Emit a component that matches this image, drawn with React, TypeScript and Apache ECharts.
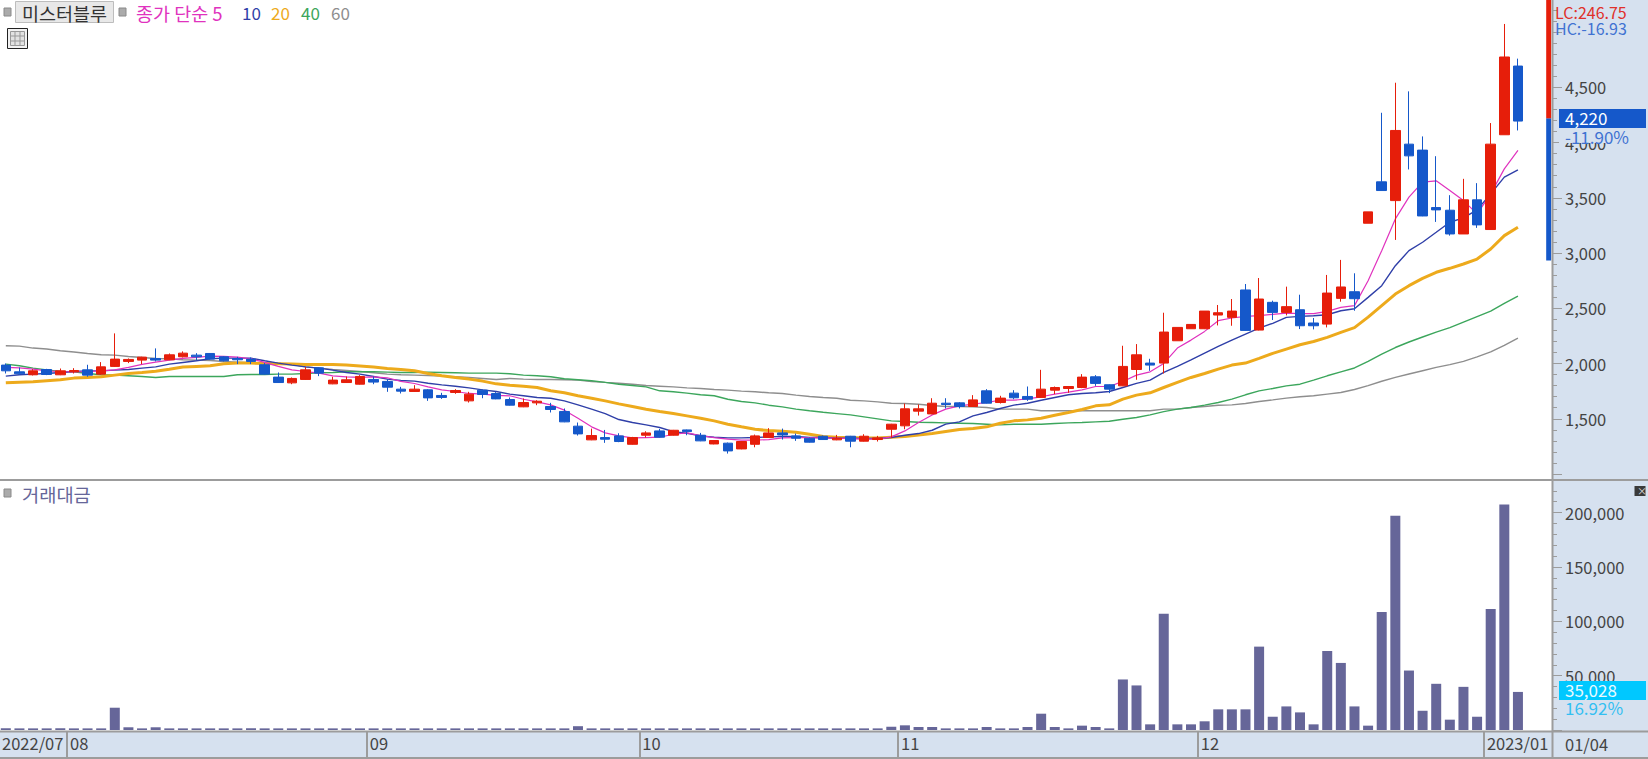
import React, { useEffect, useRef } from "react";
import * as echarts from "echarts";

const FONT = '"Noto Sans CJK KR", "Noto Sans", sans-serif';
const W = 1648;
const H = 759;

// [open, close, low, high]
const candles: number[][] = [
  [1986,1934,1910,2001],[1925,1907,1898,1964],[1898,1934,1892,1949],[1946,1901,1895,1952],[1898,1934,1895,1955],
  [1925,1937,1910,1958],[1943,1895,1880,1989],[1904,1970,1898,2013],[1974,2040,1970,2273],[2019,2037,2004,2046],
  [2031,2058,1995,2061],[2046,2031,2019,2137],[2034,2079,2031,2091],[2061,2094,2055,2110],[2076,2061,2031,2094],
  [2091,2040,2037,2094],[2061,2025,2019,2067],[2046,2034,1995,2061],[2040,2019,1995,2055],[1989,1904,1901,2004],
  [1877,1828,1825,1919],[1825,1865,1813,1874],[1856,1943,1853,1968],[1961,1913,1886,1964],[1816,1850,1813,1880],
  [1828,1853,1825,1883],[1813,1883,1810,1895],[1856,1832,1813,1883],[1838,1786,1744,1859],[1768,1750,1729,1789],
  [1747,1768,1744,1804],[1762,1689,1662,1768],[1711,1693,1680,1735],[1738,1756,1726,1768],[1662,1723,1647,1744],
  [1759,1720,1686,1765],[1729,1680,1677,1741],[1674,1623,1620,1693],[1608,1647,1605,1684],[1644,1659,1623,1668],
  [1611,1584,1557,1644],[1566,1472,1469,1593],[1433,1363,1348,1466],[1309,1348,1306,1411],[1330,1315,1282,1399],
  [1345,1294,1288,1369],[1269,1330,1266,1336],[1351,1372,1330,1387],[1390,1333,1330,1408],[1351,1396,1348,1399],
  [1399,1384,1351,1402],[1351,1300,1297,1372],[1272,1303,1269,1303],[1279,1209,1185,1285],[1227,1294,1224,1297],
  [1269,1345,1242,1357],[1330,1372,1327,1415],[1372,1354,1312,1411],[1345,1324,1300,1366],[1324,1288,1285,1330],
  [1342,1312,1309,1348],[1309,1324,1306,1354],[1342,1297,1242,1345],[1297,1342,1294,1360],[1312,1327,1294,1345],
  [1405,1451,1327,1454],[1436,1590,1405,1638],[1569,1590,1529,1629],[1544,1641,1541,1686],[1641,1629,1593,1686],
  [1644,1611,1593,1650],[1611,1671,1608,1714],[1753,1641,1638,1768],[1647,1687,1638,1708],[1732,1690,1677,1759],
  [1702,1677,1662,1792],[1693,1768,1690,1943],[1759,1783,1723,1792],[1774,1792,1735,1795],[1783,1877,1777,1904],
  [1880,1820,1798,1895],[1808,1768,1732,1811],[1798,1974,1795,2161],[1946,2079,1853,2176],[2004,1986,1934,2043],
  [2004,2285,1910,2460],[2206,2327,2206,2327],[2315,2354,2315,2354],[2315,2475,2312,2475],[2439,2460,2345,2530],
  [2418,2475,2342,2584],[2666,2300,2297,2720],[2303,2584,2300,2774],[2554,2463,2394,2569],[2463,2515,2436,2696],
  [2487,2342,2312,2623],[2367,2342,2309,2412],[2357,2638,2327,2802],[2590,2693,2560,2938],[2650,2587,2478,2817],
  [3270,3373,3270,3373],[3645,3566,3566,4270],[3475,4110,3119,4542],[3986,3880,3757,4464],[3932,3336,3334,4056],
  [3412,3391,3282,3877],[3388,3173,3158,3524],[3173,3482,3173,3672],[3482,3255,3228,3633],[3213,3986,3213,4177],
  [4071,4775,4071,5074],[4693,4195,4110,4760],
];

const ma5 = [
  1965,1961,1949,1934,1928,1925,1928,1934,1943,1965,1992,2013,2031,2046,2055,2067,2064,2058,2043,2010,
  1974,1943,1928,1913,1889,1880,1874,1880,1871,1838,1819,1789,1762,1747,1729,1723,1711,
  1708,1677,1653,1626,1578,1505,1427,1372,1345,1327,1330,1333,1360,1372,1348,1330,1315,1306,1306,1312,
  1327,1330,1330,1327,1324,1321,1318,1315,1336,1390,1466,1535,1587,1617,1632,1647,
  1668,1668,1680,1699,1723,1741,1762,1792,1792,1838,1895,1925,2001,2140,2212,2291,2388,2412,2427,2433,
  2445,2457,2451,2451,2472,2509,
  2524,2750,3022,3309,3506,3642,3654,3566,3475,3355,3536,3762,3929,
];
const ma10 = [
  1886,1898,1904,1910,1919,1928,1934,1934,1940,1946,1958,1970,1995,2010,2025,2043,2049,2049,2049,2025,
  2004,1986,1970,1958,1940,1919,1904,1883,1859,1847,1841,1822,1807,1795,1780,1762,1747,
  1723,1708,1693,1686,1662,1626,1587,1547,1493,1466,1445,1421,1384,1369,1345,1333,1327,1327,1330,1336,
  1339,1339,1330,1330,1324,1324,1321,1321,1330,1351,1366,1396,1451,1472,1526,1557,
  1593,1623,1641,1668,1693,1717,1729,1735,1747,1783,1820,1850,1919,1974,2034,2095,2155,2212,2267,2321,
  2364,2418,2427,2433,2442,2478,
  2496,2599,2705,2886,3022,3098,3188,3279,3318,3391,3536,3687,3754,
];
const ma20 = [
  1825,1831,1835,1844,1853,1868,1874,1880,1895,1910,1919,1931,1949,1968,1974,1980,1998,2004,2004,2001,
  1998,1995,1992,1992,1992,1986,1977,1968,1955,1946,1934,1910,1889,1874,1859,1841,1816,
  1804,1795,1783,1753,1735,1708,1686,1662,1635,1611,1587,1566,1547,1526,1505,1481,1451,1427,1405,1393,
  1387,1378,1360,1339,1333,1330,1327,1327,1333,1339,1354,1366,1384,1402,1411,1427,
  1460,1481,1490,1505,1532,1557,1584,1617,1626,1678,1714,1735,1783,1829,1874,1910,1949,1986,2004,2046,
  2092,2131,2170,2200,2237,2282,
  2325,2420,2525,2629,2705,2771,2826,2862,2901,2946,3037,3158,3234,
];
const ma40 = [
  1995,1980,1958,1943,1928,1925,1910,1898,1895,1889,1883,1874,1883,1883,1883,1883,1883,1898,1901,1901,
  1904,1904,1910,1916,1919,1925,1925,1925,1922,1919,1919,1922,1919,1916,1913,1913,1913,
  1907,1895,1889,1880,1862,1853,1844,1829,1813,1801,1789,1753,1744,1732,1717,1708,1677,1656,1644,1623,
  1608,1587,1572,1559,1547,1535,1517,1499,1481,1475,1469,1466,1463,1460,1457,1451,
  1445,1451,1451,1451,1457,1463,1466,1472,1478,1496,1511,1535,1565,1587,1602,1623,1647,1678,1717,1753,
  1774,1798,1813,1850,1889,1925,
  1960,2020,2085,2145,2195,2240,2285,2325,2375,2425,2475,2545,2610,
];
const ma60 = [
  2161,2158,2140,2131,2116,2104,2091,2079,2076,2064,2055,2046,2043,2034,2031,2028,2019,2013,2007,2001,
  2001,1992,1970,1958,1946,1937,1928,1916,1904,1898,1895,1892,1886,1880,1874,1865,1856,
  1865,1859,1856,1856,1853,1850,1838,1829,1822,1813,1801,1795,1789,1780,1774,1765,1759,1750,1744,1735,
  1729,1714,1702,1692,1686,1668,1662,1653,1641,1638,1632,1620,1611,1611,1608,1602,
  1587,1587,1587,1572,1572,1572,1572,1572,1572,1572,1572,1572,1587,1587,1602,1611,1623,1626,1638,1656,
  1671,1687,1699,1708,1723,1738,
  1765,1800,1840,1875,1905,1935,1965,1990,2020,2060,2105,2165,2230,
];

const turnover = [
  1500,1500,1500,1500,1500,1500,1500,1500,20500,2500,1500,2500,1500,1500,1500,1500,1500,1500,1500,1500,
  1500,1500,1500,1500,1500,1500,1500,1500,1500,1500,1500,1500,1500,1500,1500,1500,1500,1500,1500,1500,
  1500,1500,3500,1500,1500,1500,1500,1500,1500,1500,1500,1500,1500,1500,1500,1500,1500,1500,1500,1500,
  1500,1500,1500,1500,1500,3000,4300,2750,2750,1500,1500,1500,2750,1500,1500,2750,15000,2750,1500,4000,
  2750,1500,46500,41000,5200,107000,5200,5200,8000,19000,19000,19000,76700,12200,21700,16200,5200,72700,61700,21700,
  4000,108500,197000,54700,17700,42500,9500,39700,12200,111300,207500,35028,
];

const monthIndices = [0, 5, 27, 47, 66, 88, 109];
const monthLabels = ["2022/07", "08", "09", "10", "11", "12", "2023/01"];
const lastDateLabel = "01/04";
const maColors = ["#E032BE", "#2F3FA8", "#EDAA1C", "#3CA65C", "#8E8E8E"];
const maWidths = [1.2, 1.4, 3, 1.4, 1.4];
const maLabels = ["종가 단순 5", "10", "20", "40", "60"];
const maLabelX = [136, 242, 271, 301, 331];
const lastPrice = 4220;
const scaleBarBottom = 2932;
const scaleBarTop = 5300;

const RED = "#E61E0A";
const BLUE = "#1558CA";
const PURPLE = "#666699";
const PANEL = "#D6E1EF";
const LINE = "#9C9C9C";
const TEXT = "#444444";

const BANDS = 114; // 112 sessions and two empty slots on the right
const categories = Array.from({ length: BANDS }, (_, i) => String(i));

function labelText(x: number, y: number, text: string, fill: string, size = 17, extra: any = {}) {
  return {
    type: "text",
    x,
    y,
    z: 50,
    style: { text, fill, font: `${size}px ${FONT}`, verticalAlign: "middle", align: "left", ...extra },
  };
}
function box(x: number, y: number, width: number, height: number, fill: string, z = 40, stroke?: string) {
  return {
    type: "rect",
    z,
    shape: { x, y, width, height },
    style: stroke ? { fill, stroke, lineWidth: 1 } : { fill },
  };
}
function hline(y: number, x1 = 0, x2 = W) {
  return { type: "line", z: 45, shape: { x1, y1: y, x2, y2: y }, style: { stroke: LINE, lineWidth: 2 } };
}
function bullet(x: number, y: number) {
  return box(x, y, 7, 8, "#ABABAB", 45, "#8A8A8A");
}

export default function App() {
  const ref = useRef<HTMLDivElement>(null);

  useEffect(() => {
    document.body.style.margin = "0";
    document.body.style.overflow = "hidden";
    const chart = echarts.init(ref.current!, undefined, { renderer: "svg" });

    const tableIcon: any[] = [
      box(7.5, 28.5, 20, 20, "#F2F2F2", 45, "#222222"),
      box(10.5, 31.5, 14, 14, "#E2E2E2", 45, "#999999"),
      { type: "line", z: 46, shape: { x1: 15, y1: 32, x2: 15, y2: 45 }, style: { stroke: "#999", lineWidth: 1 } },
      { type: "line", z: 46, shape: { x1: 20, y1: 32, x2: 20, y2: 45 }, style: { stroke: "#999", lineWidth: 1 } },
      { type: "line", z: 46, shape: { x1: 11, y1: 36, x2: 24, y2: 36 }, style: { stroke: "#999", lineWidth: 1 } },
      { type: "line", z: 46, shape: { x1: 11, y1: 41, x2: 24, y2: 41 }, style: { stroke: "#999", lineWidth: 1 } },
    ];

    const valueLabel = { show: true, margin: 13, color: TEXT, fontFamily: FONT, fontSize: 16.5, padding: [0, 0, 4, 0] };

    const option: any = {
      animation: false,
      backgroundColor: "#FFFFFF",
      grid: [
        { left: -1, width: 1553, top: -1, height: 475, containLabel: false, outerBoundsMode: "none" },
        { left: -1, width: 1553, top: 480, height: 250, containLabel: false, outerBoundsMode: "none" },
        { left: -7.81, width: 1553, top: 731, height: 1, containLabel: false, outerBoundsMode: "none" },
      ],
      xAxis: [
        { type: "category", gridIndex: 0, data: categories, show: false },
        { type: "category", gridIndex: 1, data: categories, show: false },
        {
          type: "category",
          gridIndex: 2,
          data: categories,
          position: "bottom",
          axisLine: { show: false },
          axisTick: {
            show: true,
            alignWithLabel: true,
            length: 26,
            interval: (i: number) => monthIndices.includes(i),
            lineStyle: { color: LINE, width: 2 },
          },
          axisLabel: {
            show: true,
            interval: (i: number) => monthIndices.includes(i),
            formatter: (_: string, i: number) => monthLabels[monthIndices.indexOf(i)] ?? "",
            align: "left",
            padding: [0, 0, 0, 3],
            margin: 3,
            color: TEXT,
            fontFamily: FONT,
            fontSize: 16.5,
            hideOverlap: false,
          },
        },
      ],
      yAxis: [
        {
          type: "value",
          gridIndex: 0,
          position: "right",
          min: 1000,
          max: 5300,
          interval: 500,
          splitLine: { show: false },
          axisLine: { show: false },
          axisTick: { show: true, length: 10, lineStyle: { color: LINE, width: 1 } },
          minorTick: { show: true, splitNumber: 5, length: 5, lineStyle: { color: LINE, width: 1 } },
          axisLabel: {
            ...valueLabel,
            formatter: (v: number) => (v >= 1500 && v <= 4500 ? v.toLocaleString("en-US") : ""),
          },
        },
        {
          type: "value",
          gridIndex: 1,
          position: "right",
          min: 0,
          max: 230000,
          interval: 50000,
          splitLine: { show: false },
          axisLine: { show: false },
          axisTick: { show: true, length: 10, lineStyle: { color: LINE, width: 1 } },
          minorTick: { show: true, splitNumber: 5, length: 5, lineStyle: { color: LINE, width: 1 } },
          axisLabel: {
            ...valueLabel,
            formatter: (v: number) => (v > 0 && v <= 200000 ? v.toLocaleString("en-US") : ""),
          },
        },
        { type: "value", gridIndex: 2, show: false },
      ],
      series: [
        ...[ma60, ma40, ma20, ma10, ma5].map((d, k) => {
          const idx = 4 - k;
          return {
            type: "line",
            name: `MA${idx}`,
            xAxisIndex: 0,
            yAxisIndex: 0,
            data: d,
            showSymbol: false,
            silent: true,
            z: 2,
            lineStyle: { color: maColors[idx], width: maWidths[idx] },
          };
        }),
        {
          type: "candlestick",
          name: "price",
          xAxisIndex: 0,
          yAxisIndex: 0,
          data: candles,
          barWidth: 10,
          z: 3,
          itemStyle: { color: RED, color0: BLUE, borderColor: RED, borderColor0: BLUE, borderWidth: 1 },
        },
        {
          type: "custom",
          name: "range",
          xAxisIndex: 0,
          yAxisIndex: 0,
          clip: false,
          z: 4,
          data: [
            [113, scaleBarBottom, lastPrice],
            [113, lastPrice, scaleBarTop],
          ],
          encode: { x: 0, y: [1, 2] },
          renderItem: (params: any, api: any) => {
            const a = api.coord([api.value(0), api.value(1)]);
            const b = api.coord([api.value(0), api.value(2)]);
            return {
              type: "rect",
              shape: { x: a[0] + 1, y: b[1], width: 5, height: a[1] - b[1] },
              style: { fill: params.dataIndex === 0 ? BLUE : RED },
            };
          },
        },
        {
          type: "bar",
          name: "거래대금",
          xAxisIndex: 1,
          yAxisIndex: 1,
          data: turnover,
          barWidth: 10,
          itemStyle: { color: PURPLE },
        },
        { type: "line", xAxisIndex: 2, yAxisIndex: 2, data: [] },
      ],
      graphic: [
        // panels
        box(1552, 0, 96, H, PANEL, -10),
        box(0, 732, W, 26, PANEL, -10),
        { type: "line", z: 45, shape: { x1: 1552.5, y1: 0, x2: 1552.5, y2: H }, style: { stroke: LINE, lineWidth: 2 } },
        hline(480),
        hline(731.5),
        hline(758),
        // header
        bullet(4, 8),
        box(15.5, 1.5, 98, 21, "#E8E8E8", 40, "#BDBDBD"),
        labelText(22, 13, "미스터블루", "#333333", 18.5),
        bullet(119, 8),
        ...maLabels.map((t, i) => labelText(maLabelX[i], i === 0 ? 13 : 12.5, t, maColors[i], i === 0 ? 18.5 : 17)),
        ...tableIcon,
        // sub panel title
        bullet(4, 489),
        labelText(22, 493, "거래대금", PURPLE, 18.7),
        // close box
        box(1634.5, 486, 11, 10, "#3A3A3A", 45),
        labelText(1637, 490.5, "×", "#DDDDDD", 10),
        // right column read-outs
        labelText(1555, 11.5, "LC:246.75", "#E0302A", 16),
        labelText(1555, 28, "HC:-16.93", "#3F72D2", 16),
        box(1559, 109, 87, 19, BLUE),
        labelText(1565, 117.5, lastPrice.toLocaleString("en-US"), "#FFFFFF", 17),
        box(1559, 128, 87, 15, PANEL),
        labelText(1565, 136, "-11.90%", "#3F72D2", 17),
        box(1559, 681, 87, 19, "#00C8FF"),
        labelText(1565, 689.5, "35,028", "#E8FAFF", 17),
        labelText(1565, 707, "16.92%", "#33BFF2", 17),
        labelText(1565, 744, lastDateLabel, TEXT, 16.5),
      ],
    };

    chart.setOption(option);
    return () => chart.dispose();
  }, []);

  return <div ref={ref} style={{ position: "absolute", left: 0, top: 0, width: W, height: H }} />;
}
